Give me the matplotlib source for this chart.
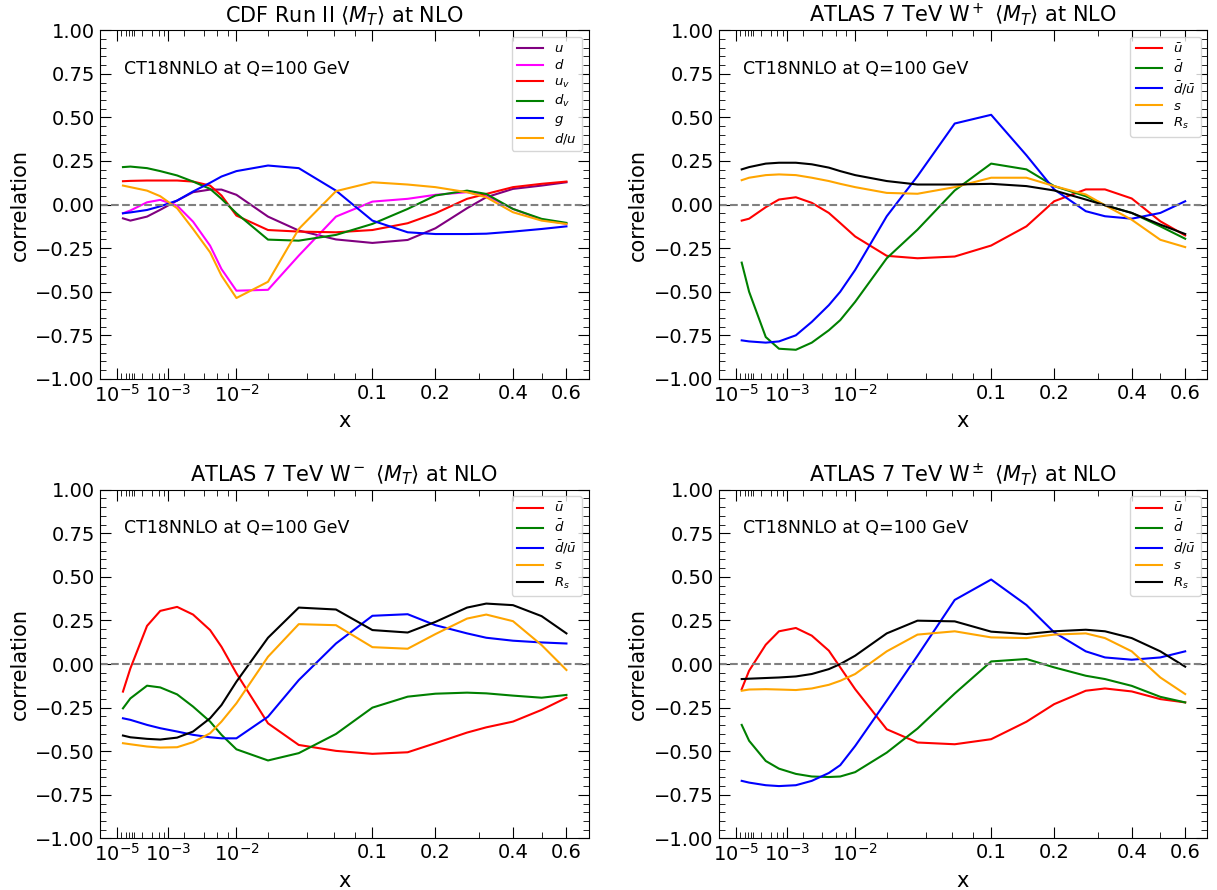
import numpy as np
import matplotlib
matplotlib.use("Agg")
import matplotlib.pyplot as plt
from matplotlib.ticker import FixedLocator, FixedFormatter, MultipleLocator

# x grid of the correlation scan
x_vals = [2.7e-5, 6.8e-5, 2.9e-4, 6.6e-4, 1.5e-3, 2.8e-3, 4.9e-3, 6.8e-3, 0.01, 0.02,
          0.035, 0.062, 0.1, 0.15, 0.2, 0.27, 0.32, 0.4, 0.5, 0.6]

# CDF Run II <M_T>
cdf_u = [-0.079, -0.092, -0.069, -0.03, 0.023, 0.071, 0.086, 0.086, 0.056, -0.069,
         -0.149, -0.20, -0.22, -0.203, -0.136, -0.021, 0.042, 0.09, 0.109, 0.128]
cdf_d = [-0.05, -0.034, 0.013, 0.027, -0.006, -0.098, -0.236, -0.37, -0.494, -0.489,
         -0.293, -0.069, 0.017, 0.033, 0.056, 0.071, 0.052, -0.025, -0.086, -0.111]
cdf_uv = [0.134, 0.136, 0.138, 0.138, 0.138, 0.132, 0.109, 0.052, -0.063, -0.146,
          -0.155, -0.159, -0.146, -0.107, -0.05, 0.033, 0.061, 0.10, 0.119, 0.132]
cdf_dv = [0.215, 0.218, 0.209, 0.192, 0.167, 0.132, 0.09, 0.033, -0.05, -0.201,
          -0.207, -0.174, -0.111, -0.025, 0.052, 0.08, 0.061, -0.025, -0.082, -0.105]
cdf_g = [-0.05, -0.045, -0.031, -0.01, 0.023, 0.075, 0.125, 0.161, 0.192, 0.224,
         0.209, 0.08, -0.092, -0.159, -0.169, -0.169, -0.167, -0.155, -0.14, -0.125]
cdf_dou = [0.109, 0.10, 0.08, 0.048, -0.021, -0.14, -0.274, -0.408, -0.536, -0.443,
           -0.14, 0.077, 0.128, 0.115, 0.10, 0.071, 0.042, -0.044, -0.092, -0.111]

# ATLAS 7 TeV W+
wp_ubar = [-0.092, -0.081, -0.015, 0.029, 0.042, 0.01, -0.048, -0.106, -0.183, -0.294,
           -0.308, -0.298, -0.235, -0.125, 0.019, 0.087, 0.087, 0.035, -0.096, -0.177]
wp_dbar = [-0.333, -0.5, -0.76, -0.827, -0.833, -0.792, -0.721, -0.663, -0.558, -0.308,
           -0.144, 0.081, 0.235, 0.202, 0.106, 0.048, -0.004, -0.048, -0.125, -0.196]
wp_ratio = [-0.779, -0.785, -0.792, -0.785, -0.75, -0.673, -0.577, -0.5, -0.375, -0.067,
            0.163, 0.465, 0.515, 0.283, 0.087, -0.038, -0.067, -0.081, -0.048, 0.019]
wp_s = [0.14, 0.154, 0.169, 0.173, 0.169, 0.154, 0.135, 0.119, 0.10, 0.067,
        0.062, 0.10, 0.154, 0.154, 0.106, 0.058, -0.004, -0.087, -0.202, -0.244]
wp_rs = [0.202, 0.215, 0.235, 0.24, 0.24, 0.231, 0.212, 0.192, 0.169, 0.135,
         0.115, 0.115, 0.119, 0.106, 0.081, 0.029, -0.004, -0.048, -0.115, -0.169]

# ATLAS 7 TeV W-
wm_ubar = [-0.158, -0.025, 0.219, 0.305, 0.328, 0.284, 0.195, 0.099, -0.053, -0.34,
           -0.464, -0.498, -0.515, -0.506, -0.454, -0.393, -0.363, -0.33, -0.263, -0.193]
wm_dbar = [-0.254, -0.197, -0.124, -0.134, -0.174, -0.244, -0.33, -0.406, -0.489, -0.553,
           -0.511, -0.401, -0.25, -0.187, -0.17, -0.164, -0.168, -0.181, -0.193, -0.177]
wm_ratio = [-0.311, -0.32, -0.349, -0.368, -0.387, -0.406, -0.42, -0.426, -0.426, -0.302,
            -0.092, 0.118, 0.277, 0.286, 0.223, 0.176, 0.151, 0.134, 0.124, 0.118]
wm_s = [-0.454, -0.46, -0.473, -0.479, -0.477, -0.448, -0.397, -0.33, -0.225, 0.042,
        0.229, 0.223, 0.097, 0.088, 0.172, 0.261, 0.284, 0.246, 0.109, -0.034]
wm_rs = [-0.41, -0.42, -0.429, -0.433, -0.422, -0.387, -0.311, -0.235, -0.101, 0.151,
         0.324, 0.313, 0.195, 0.181, 0.242, 0.324, 0.347, 0.338, 0.275, 0.176]

# ATLAS 7 TeV W+-
wpm_ubar = [-0.144, -0.038, 0.111, 0.188, 0.207, 0.163, 0.077, -0.019, -0.144, -0.374,
            -0.45, -0.46, -0.431, -0.331, -0.23, -0.153, -0.14, -0.157, -0.201, -0.22]
wpm_dbar = [-0.349, -0.44, -0.556, -0.6, -0.63, -0.645, -0.648, -0.645, -0.62, -0.508,
            -0.37, -0.169, 0.015, 0.029, -0.019, -0.067, -0.086, -0.125, -0.188, -0.22]
wpm_ratio = [-0.67, -0.68, -0.695, -0.70, -0.695, -0.67, -0.625, -0.58, -0.47, -0.21,
             0.048, 0.368, 0.485, 0.339, 0.182, 0.073, 0.038, 0.025, 0.038, 0.073]
wpm_s = [-0.153, -0.146, -0.144, -0.146, -0.149, -0.14, -0.119, -0.096, -0.057, 0.073,
         0.169, 0.188, 0.153, 0.149, 0.169, 0.176, 0.149, 0.073, -0.077, -0.172]
wpm_rs = [-0.086, -0.084, -0.08, -0.077, -0.071, -0.057, -0.029, 0.0, 0.048, 0.176,
          0.249, 0.245, 0.186, 0.172, 0.188, 0.197, 0.188, 0.149, 0.073, -0.015]

x_major = [1e-5, 1e-3, 1e-2, 0.1, 0.2, 0.4, 0.6]
x_major_labels = [r"$10^{-5}$", r"$10^{-3}$", r"$10^{-2}$", "0.1", "0.2", "0.4", "0.6"]
x_minor = [2e-5, 4e-5, 6e-5, 8e-5, 1e-4, 2e-4, 4e-4, 6e-4, 8e-4,
           2e-3, 4e-3, 6e-3, 8e-3, 0.02, 0.04, 0.06, 0.08, 0.3, 0.5]

pdf_labels = [r"$u$", r"$d$", r"$u_v$", r"$d_v$", r"$g$", r"$d/u$"]
pdf_colors = ["purple", "magenta", "red", "green", "blue", "orange"]
sea_labels = [r"$\bar{u}$", r"$\bar{d}$", r"$\bar{d}/\bar{u}$", r"$s$", r"$R_s$"]
sea_colors = ["red", "green", "blue", "orange", "black"]


def fwd(x):
    return np.power(np.clip(x, 0, None), 0.3)


def inv(t):
    return np.power(np.clip(t, 0, None), 1 / 0.3)


def draw_panel(ax, title, series, labels, colors):
    for ys, lab, col in zip(series, labels, colors):
        ax.plot(x_vals, ys, color=col, lw=1.5, label=lab)
    ax.axhline(0, color="gray", ls="--", lw=1.5)
    # x axis stretched as x^0.3
    ax.set_xscale("function", functions=(fwd, inv))
    ax.set_xlim(0, 0.7)
    ax.set_ylim(-1, 1)
    ax.xaxis.set_major_locator(FixedLocator(x_major))
    ax.xaxis.set_major_formatter(FixedFormatter(x_major_labels))
    ax.xaxis.set_minor_locator(FixedLocator(x_minor))
    ax.yaxis.set_major_locator(MultipleLocator(0.25))
    ax.yaxis.set_minor_locator(MultipleLocator(0.05))
    ax.tick_params(which="both", direction="in", top=True, right=True, labelsize=14)
    ax.tick_params(which="major", length=8)
    ax.tick_params(which="minor", length=4)
    ax.set_title(title, fontsize=15)
    ax.set_xlabel("x", fontsize=15)
    ax.set_ylabel("correlation", fontsize=15)
    ax.text(0.05, 0.89, "CT18NNLO at Q=100 GeV", transform=ax.transAxes,
            fontsize=12.5, va="center")
    ax.legend(loc="upper right", fontsize=9.5, labelspacing=0.25)


fig, axs = plt.subplots(2, 2, figsize=(12.17, 8.9), dpi=100)
fig.subplots_adjust(left=0.082, right=0.992, bottom=0.058, top=0.966,
                    wspace=0.266, hspace=0.318)

draw_panel(axs[0, 0], r"CDF Run II $\langle M_T\rangle$ at NLO",
           [cdf_u, cdf_d, cdf_uv, cdf_dv, cdf_g, cdf_dou], pdf_labels, pdf_colors)
draw_panel(axs[0, 1], r"ATLAS 7 TeV W$^+$ $\langle M_T\rangle$ at NLO",
           [wp_ubar, wp_dbar, wp_ratio, wp_s, wp_rs], sea_labels, sea_colors)
draw_panel(axs[1, 0], r"ATLAS 7 TeV W$^-$ $\langle M_T\rangle$ at NLO",
           [wm_ubar, wm_dbar, wm_ratio, wm_s, wm_rs], sea_labels, sea_colors)
draw_panel(axs[1, 1], r"ATLAS 7 TeV W$^\pm$ $\langle M_T\rangle$ at NLO",
           [wpm_ubar, wpm_dbar, wpm_ratio, wpm_s, wpm_rs], sea_labels, sea_colors)

fig.savefig("out.png", dpi=100)
